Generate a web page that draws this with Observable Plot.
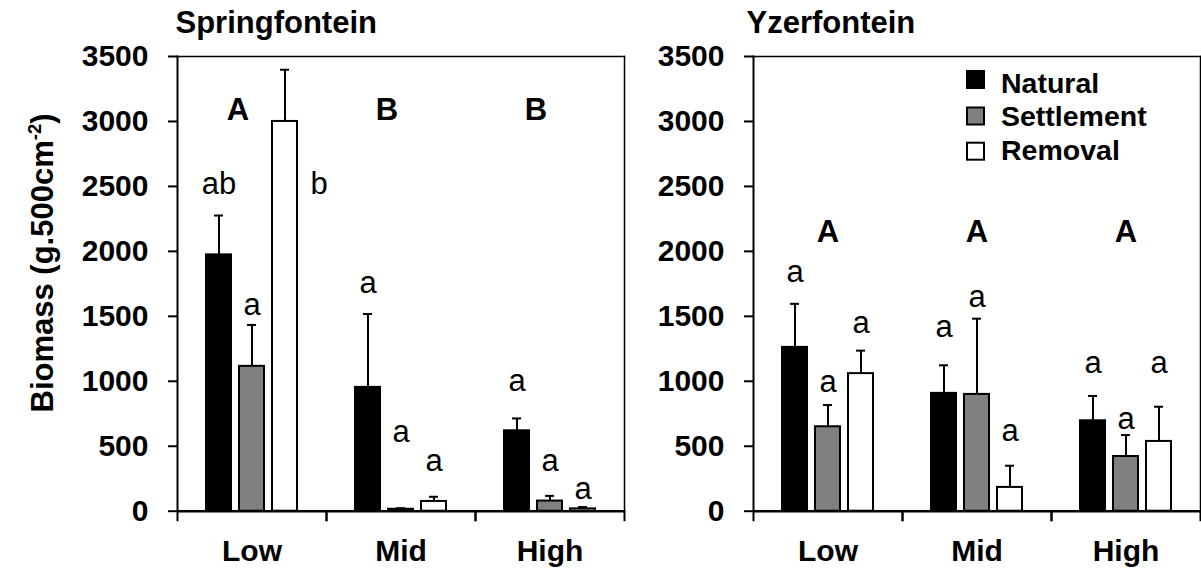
<!DOCTYPE html>
<html><head><meta charset="utf-8">
<script src="https://cdn.jsdelivr.net/npm/d3@7"></script>
<script src="https://cdn.jsdelivr.net/npm/@observablehq/plot@0.6"></script>
<style>
html,body{margin:0;padding:0;background:#fff;}
#wrap{position:relative;width:1201px;height:572px;overflow:hidden;font-family:"Liberation Sans",Arial,sans-serif;}
#wrap svg{position:absolute;top:0;overflow:visible;}
</style></head><body><div id="wrap"></div>
<script>
const categories = ["Low", "Mid", "High"];
const treatments = ["Natural", "Settlement", "Removal"];
const treatmentColors = ["#000000", "#808080", "#ffffff"];
const yTicks = [0, 500, 1000, 1500, 2000, 2500, 3000, 3500];
const panelTitles = ["Springfontein", "Yzerfontein"];
const yTitle = "Biomass (g.500cm";
const yTitleSup = "-2";

// Springfontein (means by Low / Mid / High)
const springNatural = [1973, 953, 619];
const springSettlement = [1115, 15, 78];
const springRemoval = [3000, 75, 18];
const springNaturalSE = [303, 565, 95];
const springSettlementSE = [319, 8, 40];
const springRemovalSE = [398, 36, 14];
const springNaturalLetters = ["ab", "a", "a"];
const springSettlementLetters = ["a", "a", "a"];
const springRemovalLetters = ["b", "a", "a"];
const springNaturalLetterY = [2445, 1677, 928];
const springSettlementLetterY = [1511, 535, 311];
const springRemovalLetterY = [2445, 311, 93];
const springGroupLetters = ["A", "B", "B"];
const springGroupLetterY = 3013;

// Yzerfontein
const yzerNatural = [1261, 907, 696];
const yzerSettlement = [650, 899, 421];
const yzerRemoval = [1059, 183, 537];
const yzerNaturalSE = [335, 216, 191];
const yzerSettlementSE = [167, 583, 165];
const yzerRemovalSE = [177, 167, 267];
const yzerNaturalLetters = ["a", "a", "a"];
const yzerSettlementLetters = ["a", "a", "a"];
const yzerRemovalLetters = ["a", "a", "a"];
const yzerNaturalLetterY = [1762, 1338, 1061];
const yzerSettlementLetterY = [914, 1575, 632];
const yzerRemovalLetterY = [1369, 542, 1061];
const yzerGroupLetters = ["A", "A", "A"];
const yzerGroupLetterY = 2070;

function buildRows(vals, ses, letters, letterY) {
  const out = [];
  categories.forEach((c, i) => treatments.forEach((t, j) => {
    out.push({cat: c, treat: t, value: vals[j][i], se: ses[j][i], letter: letters[j][i], ly: letterY[j][i]});
  }));
  return out;
}
const springRows = buildRows(
  [springNatural, springSettlement, springRemoval],
  [springNaturalSE, springSettlementSE, springRemovalSE],
  [springNaturalLetters, springSettlementLetters, springRemovalLetters],
  [springNaturalLetterY, springSettlementLetterY, springRemovalLetterY]);
const yzerRows = buildRows(
  [yzerNatural, yzerSettlement, yzerRemoval],
  [yzerNaturalSE, yzerSettlementSE, yzerRemovalSE],
  [yzerNaturalLetters, yzerSettlementLetters, yzerRemovalLetters],
  [yzerNaturalLetterY, yzerSettlementLetterY, yzerRemovalLetterY]);

const FONT = '"Liberation Sans", Arial, sans-serif';

function panel({data, groupLetters, groupY, groupDx, width, marginLeft, marginRight, beside}) {
  const groupRows = categories.map((c, i) => ({cat: c, letter: groupLetters[i]}));
  const normal = data.filter(d => !beside(d));
  const side = data.filter(d => beside(d));
  return Plot.plot({
    width, height: 572, marginLeft, marginRight, marginTop: 56, marginBottom: 61.3,
    style: {fontFamily: FONT, color: "black", background: "transparent", overflow: "visible"},
    fx: {domain: categories, padding: 0, axis: null},
    x: {domain: treatments, paddingInner: 0.24, paddingOuter: 0.857, axis: null},
    y: {domain: [0, 3500], axis: null},
    color: {domain: treatments, range: treatmentColors},
    marks: [
      Plot.ruleX(data, {fx: "cat", x: "treat", y1: "value", y2: d => d.value + d.se, stroke: "black", strokeWidth: 2}),
      Plot.tickY(data, {fx: "cat", x: "treat", y: d => d.value + d.se, stroke: "black", strokeWidth: 2, insetLeft: 8, insetRight: 8}),
      Plot.barY(data, {fx: "cat", x: "treat", y: "value", fill: "treat", stroke: "black", strokeWidth: 2}),
      Plot.text(normal, {fx: "cat", x: "treat", y: "ly", text: "letter", fontSize: 31, lineAnchor: "bottom", fill: "black"}),
      Plot.text(side, {fx: "cat", x: "treat", y: "ly", text: "letter", fontSize: 31, lineAnchor: "bottom", fill: "black", dx: 34}),
      Plot.text(groupRows, {fx: "cat", x: () => "Settlement", y: () => groupY, text: "letter", fontSize: 31, fontWeight: "bold", lineAnchor: "bottom", fill: "black", dx: groupDx}),
      Plot.ruleY([0], {stroke: "black", strokeWidth: 2.6}),
      Plot.frame({facet: "super", anchor: "left", stroke: "black", strokeWidth: 2}),
      Plot.frame({facet: "super", anchor: "top", stroke: "black", strokeWidth: 1.5}),
      Plot.frame({facet: "super", anchor: "right", stroke: "black", strokeWidth: 1.5}),
      Plot.frame({anchor: "left", insetTop: 454.7, insetBottom: -9, stroke: "black", strokeWidth: 2}),
      Plot.frame({anchor: "right", insetTop: 454.7, insetBottom: -9, stroke: "black", strokeWidth: 2}),
      Plot.axisY({ticks: yTicks, tickSize: 9, tickPadding: 20, fontSize: 30, fontWeight: "bold", tickFormat: d3.format("d"), label: null, strokeWidth: 2}),
      Plot.axisFx({anchor: "bottom", tickSize: 0, tickPadding: 28, fontSize: 30, fontWeight: "bold", label: null})
    ]
  });
}

const wrap = document.getElementById("wrap");

const left = panel({data: springRows, groupLetters: springGroupLetters, groupY: springGroupLetterY, groupDx: -14,
  width: 640, marginLeft: 177, marginRight: 16,
  beside: d => d.cat === "Low" && d.treat === "Removal"});
left.style.left = "0px";
wrap.appendChild(left);

const right = panel({data: yzerRows, groupLetters: yzerGroupLetters, groupY: yzerGroupLetterY, groupDx: 0,
  width: 561, marginLeft: 113, marginRight: 1,
  beside: () => false});
right.style.left = "640px";
wrap.appendChild(right);

// titles
d3.select(left).append("text").attr("x", 175.5).attr("y", 33.3).attr("text-anchor", "start")
  .attr("font-family", FONT).attr("font-size", 31).attr("font-weight", "bold").attr("fill", "black")
  .text(panelTitles[0]);
d3.select(right).append("text").attr("x", 106.5).attr("y", 33.3).attr("text-anchor", "start")
  .attr("font-family", FONT).attr("font-size", 31).attr("font-weight", "bold").attr("fill", "black")
  .text(panelTitles[1]);

// y title with superscript
const yt = d3.select(left).append("text")
  .attr("transform", "translate(53.3,263) rotate(-90)")
  .attr("text-anchor", "middle")
  .attr("font-family", FONT).attr("font-size", 31).attr("font-weight", "bold").attr("fill", "black");
yt.append("tspan").text(yTitle);
yt.append("tspan").attr("dy", -12).attr("font-size", 18.5).text(yTitleSup);
yt.append("tspan").attr("dy", 12).text(")");

// legend (right panel)
const color = right.scale("color");
const lg = d3.select(right).append("g").attr("text-anchor", "start");
const legTops = [71, 107.5, 142.7];
const legBase = [93.3, 125.7, 160];
treatments.forEach((t, i) => {
  lg.append("rect").attr("x", 967 - 640).attr("y", legTops[i]).attr("width", 17).attr("height", 17)
    .attr("fill", color.apply(t)).attr("stroke", "black").attr("stroke-width", 2);
  lg.append("text").attr("x", 1001 - 640).attr("y", legBase[i]).attr("text-anchor", "start")
    .attr("font-family", FONT).attr("font-size", 28.5).attr("font-weight", "bold").attr("fill", "black")
    .text(t);
});
</script></body></html>
